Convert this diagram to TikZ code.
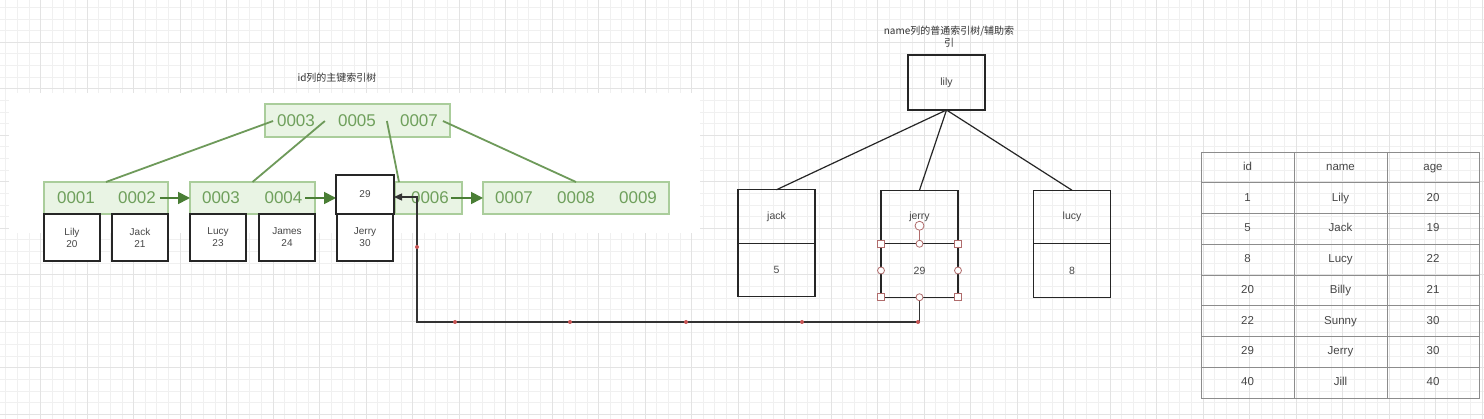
\documentclass[tikz,border=0pt]{standalone}
\usepackage{fontspec}
\setmainfont{Liberation Sans}
\newfontfamily\cjk{Noto Sans CJK SC}
\usepackage{tikz}
\usepackage{xcolor}
\usetikzlibrary{arrows,arrows.meta}
\usetikzlibrary{shapes,backgrounds,positioning}

\definecolor{keygreen}{HTML}{6FA05C}
\definecolor{boxgreen}{HTML}{E9F4E4}
\definecolor{edgegreen}{HTML}{AACD9B}
\definecolor{linegreen}{HTML}{6E9A5A}
\definecolor{arrowgreen}{HTML}{4A7E35}
\definecolor{handlered}{HTML}{B06C6C}
\definecolor{dotred}{HTML}{C85555}
\definecolor{txt}{HTML}{474747}

\tikzset{every node/.style={outer sep=0pt}}

\begin{document}
\begin{tikzpicture}[x=1pt,y=-1pt,
    minor grid/.style={draw=black!6,line width=1pt},
    major grid/.style={draw=black!11,line width=1pt},
    green node/.style={draw=edgegreen,fill=boxgreen,line width=1.2pt,minimum height=32pt,inner sep=0pt},
    key node/.style={font=\fontsize{17}{17}\selectfont,text=keygreen,inner sep=0pt},
    data node/.style={draw=black!85,fill=white,line width=1.3pt,minimum width=56pt,minimum height=47pt,
                      align=center,font=\fontsize{10}{12}\selectfont,text=txt},
    name node/.style={draw=black!85,line width=1.3pt,minimum width=77pt,minimum height=53.5pt,
                      font=\fontsize{10.5}{12}\selectfont,text=txt},
    cell/.style={inner sep=0pt,text height=8.5pt,text depth=2.5pt,
                 font=\fontsize{11.5}{12}\selectfont,text=txt},
    table line/.style={draw=black!45,line width=0.8pt},
    title/.style={font=\cjk\fontsize{10}{12}\selectfont,text=black!80,align=center,inner sep=0pt},
    tree edge/.style={linegreen,line width=1.8pt},
    next arrow/.style={-{Triangle[length=12pt,width=12pt]},arrowgreen,line width=1.8pt},
    link/.style={-{Triangle[length=8pt,width=7pt]},black!80,line width=1.3pt},
    sq handle/.style={draw=handlered,fill=white,line width=0.8pt,minimum size=7pt,inner sep=0pt},
    rd handle/.style={circle,draw=handlered,fill=white,line width=0.8pt,minimum size=7pt,inner sep=0pt}]

  \useasboundingbox (0,0) rectangle (1484,419);
  \fill[white] (0,0) rectangle (1484,419);

  % grid
  \foreach \i in {0,...,127}
    \draw[minor grid] ({5.8+\i*11.625},0) -- ++(0,419);
  \foreach \j in {0,...,35}
    \draw[minor grid] (0,{7.4+\j*11.625}) -- ++(1484,0);
  \foreach \i in {0,...,31}
    \draw[major grid] ({40.7+\i*46.5},0) -- ++(0,419);
  \foreach \j in {0,...,8}
    \draw[major grid] (0,{42.3+\j*46.5}) -- ++(1484,0);

  % id tree (pasted picture)
  \fill[white] (9,93) rectangle (700,233);
  \node[title] (idtitle) at (337,78) {id列的主键索引树};

  \node[green node,minimum width=185pt,minimum height=33pt] (top) at (357.5,120.5) {};
  \node[key node] (t3) at (296,121) {0003};
  \node[key node] (t5) at (357,121) {0005};
  \node[key node] (t7) at (419,121) {0007};

  \node[green node,minimum width=124pt] (leafA) at (106,198) {};
  \node[green node,minimum width=125pt] (leafB) at (252.5,198) {};
  \node[green node,minimum width=67pt] (leafC) at (428.5,198) {};
  \node[green node,minimum width=186pt] (leafD) at (576,198) {};
  \node[key node] (k1) at (76,198) {0001};
  \node[key node] (k2) at (137,198) {0002};
  \node[key node] (k3) at (221,198) {0003};
  \node[key node] (k4) at (283.5,198) {0004};
  \node[key node] (k6) at (430,198) {0006};
  \node[key node] (k7) at (514,198) {0007};
  \node[key node] (k8) at (576,198) {0008};
  \node[key node] (k9) at (638,198) {0009};

  \path[tree edge]
    ([xshift=-4pt]t3.west) edge (leafA.north)
    ([xshift=10pt]t3.east) edge (leafB.north)
    ([xshift=11pt]t5.east) edge ([xshift=4pt]leafC.north west)
    ([xshift=5pt]t7.east)  edge (leafD.north);

  \draw[next arrow] ([xshift=4pt]k2.east) -- (leafA.east -| leafB.west);
  \draw[next arrow] ([xshift=3pt]k4.east) -- (336,198);
  \draw[next arrow] ([xshift=2pt]k6.east) -- (leafD.west);

  \node[data node,minimum width=58pt,minimum height=39pt] (rec) at (365,194.5) {29};
  \node[data node] (lily) [below right=0pt of leafA.south west] {Lily\\20};
  \node[data node] (jack) [below left=0pt of leafA.south east] {Jack\\21};
  \node[data node] (lucy) [below right=0pt of leafB.south west] {Lucy\\23};
  \node[data node] (james) [below left=0pt of leafB.south east] {James\\24};
  \node[data node] (jerry) [below=0pt of rec] {Jerry\\30};

  % name tree
  \node[title] (nametitle) at (949,37) {name列的普通索引树/辅助索\\引};
  \node[name node,minimum height=55pt] (root) at (946.5,82.5) {lily};
  \node[name node] (jackname) at (776.5,216.5) {jack};
  \node[name node] (jackid) [below=0pt of jackname] {5};
  \node[name node] (jerryname) at (919.5,217) {jerry};
  \node[name node] (jerryid) [below=0pt of jerryname] {29};
  \node[name node] (lucyname) at (1072,217) {lucy};
  \node[name node] (lucyid) [below=0pt of lucyname] {8};

  \path[black!85,line width=1.2pt]
    (root.south) edge (jackname.north)
                 edge (jerryname.north)
                 edge (lucyname.north);

  % back link to the clustered index
  \coordinate (bend) at (417,322);
  \draw[link] (jerryid.south) |- (bend) |- ([yshift=-2.5pt]rec.east);
  \foreach \x in {455,570,686,802,918}
    \fill[dotred] (\x,322) circle (2pt);
  \fill[dotred] (417,247) circle (2pt);

  % selection handles
  \draw[handlered,line width=0.8pt] (jerryid.north) -- ++(0,-18);
  \node[rd handle,minimum size=9pt] at ([yshift=18pt]jerryid.north) {};
  \foreach \a in {north west,north east,south west,south east}
    \node[sq handle] at (jerryid.\a) {};
  \foreach \a in {north,south,east,west}
    \node[rd handle] at (jerryid.\a) {};

  % table
  \draw[table line] (1201,152) rectangle (1479,398);
  \foreach \x in {1294,1387}
    \draw[table line] (\x,152) -- (\x,398);
  \foreach \r in {1,...,7}
    \draw[table line] (1201,{152+\r*30.75}) -- (1479,{152+\r*30.75});
  \foreach \r/\a/\b/\c in {0/id/name/age,1/1/Lily/20,2/5/Jack/19,3/8/Lucy/22,
                           4/20/Billy/21,5/22/Sunny/30,6/29/Jerry/30,7/40/Jill/40} {
    \node[cell] (id\r) at (1247.5,{167.4+\r*30.75}) {\a};
    \node[cell] (nm\r) at (1340.5,{167.4+\r*30.75}) {\b};
    \node[cell] (ag\r) at (1433,{167.4+\r*30.75}) {\c};
  }
\end{tikzpicture}
\end{document}
